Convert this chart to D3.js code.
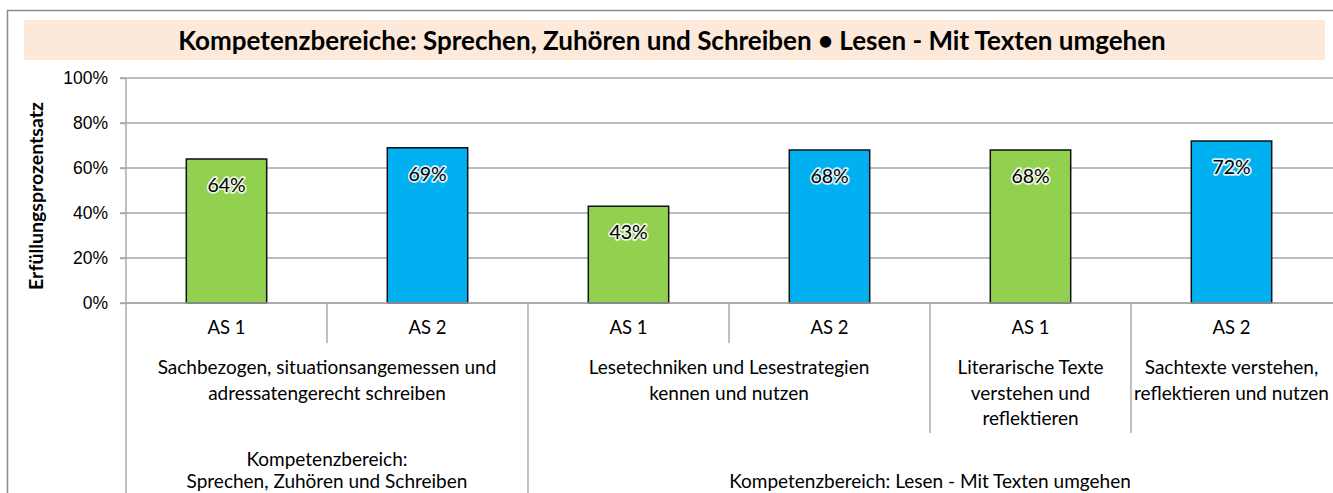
<!DOCTYPE html>
<html>
<head>
<meta charset="utf-8">
<script src="https://d3js.org/d3.v7.min.js"></script>
<style>
  body { margin: 0; background: #fff; font-family: Lato, "Open Sans", sans-serif; }
  svg text { fill: #000; }
  .axis .domain { display: none; }
</style>
</head>
<body>
<div id="chart"></div>
<script>
// data
var titleText = "Kompetenzbereiche: Sprechen, Zuhören und Schreiben • Lesen - Mit Texten umgehen";
var yTitle = "Erfüllungsprozentsatz";
var categories = ["AS 1", "AS 2", "AS 1", "AS 2", "AS 1", "AS 2"];
var values = [0.64, 0.69, 0.43, 0.68, 0.68, 0.72];
var yTicks = [0, 0.2, 0.4, 0.6, 0.8, 1.0];
var subLabels = [
  ["Sachbezogen, situationsangemessen und", "adressatengerecht schreiben"],
  ["Lesetechniken und Lesestrategien", "kennen und nutzen"],
  ["Literarische Texte", "verstehen und", "reflektieren"],
  ["Sachtexte verstehen,", "reflektieren und nutzen"]
];
var subSpans = [2, 2, 1, 1];
var groupLabels = [
  ["Kompetenzbereich:", "Sprechen, Zuhören und Schreiben"],
  ["Kompetenzbereich: Lesen - Mit Texten umgehen"]
];
var groupSpans = [2, 4];

var W = 1333, H = 493;
var margin = { left: 126, right: 1, top: 78, zero: 303 };
var colors = { "AS 1": "#92D050", "AS 2": "#00B0F0" };

var svg = d3.select("#chart").append("svg")
  .attr("width", W)
  .attr("height", H);

// outer chart border
svg.append("rect")
  .attr("x", 7.5).attr("y", 10.5)
  .attr("width", W + 20).attr("height", H + 20)
  .attr("fill", "none")
  .attr("stroke", "#8c8c8c")
  .attr("stroke-width", 1.5);

// title band
svg.append("rect")
  .attr("x", 24).attr("y", 20)
  .attr("width", 1301).attr("height", 40)
  .attr("fill", "#FDE9D9");

svg.append("text")
  .attr("x", 672).attr("y", 50)
  .attr("text-anchor", "middle")
  .style("font-weight", "bold")
  .style("font-size", "26px")
  .text(titleText);

var x = d3.scaleBand()
  .domain(d3.range(categories.length))
  .range([margin.left, W - margin.right]);

var xBar = d3.scaleBand()
  .domain(d3.range(categories.length))
  .range([margin.left, W - margin.right])
  .paddingInner(0.6)
  .paddingOuter(0.3);

var y = d3.scaleLinear()
  .domain([0, 1])
  .range([margin.zero, margin.top]);

// gridlines
svg.append("g")
  .selectAll("line")
  .data(yTicks)
  .enter()
  .append("line")
  .attr("x1", margin.left - 6)
  .attr("x2", W)
  .attr("y1", function(d) { return y(d); })
  .attr("y2", function(d) { return y(d); })
  .attr("stroke", "#a6a6a6")
  .attr("stroke-width", 1.4);

// y axis
var yAxis = d3.axisLeft(y)
  .tickValues(yTicks)
  .tickSize(6)
  .tickPadding(12)
  .tickFormat(d3.format(".0%"));

var gy = svg.append("g")
  .attr("class", "axis")
  .attr("transform", "translate(" + margin.left + ",0)")
  .call(yAxis);
gy.selectAll("line").attr("stroke", "#a6a6a6").attr("stroke-width", 1.4);
gy.selectAll("text").style("font-size", "17.5px").attr("fill", "#222");

svg.append("line")
  .attr("x1", margin.left).attr("x2", margin.left)
  .attr("y1", margin.top).attr("y2", H)
  .attr("stroke", "#a6a6a6").attr("stroke-width", 1.4);

svg.append("text")
  .attr("transform", "translate(43," + 196 + ") rotate(-90)")
  .attr("text-anchor", "middle")
  .style("font-weight", "bold")
  .style("font-size", "19.5px")
  .text(yTitle);

// bars
svg.append("g")
  .selectAll("rect")
  .data(values)
  .enter()
  .append("rect")
  .attr("x", function(d, i) { return xBar(i); })
  .attr("y", function(d) { return y(d); })
  .attr("width", xBar.bandwidth())
  .attr("height", function(d) { return y(0) - y(d); })
  .attr("fill", function(d, i) { return colors[categories[i]]; })
  .attr("stroke", "#111")
  .attr("stroke-width", 1.5);

// value labels with white halo
svg.append("g")
  .selectAll("text")
  .data(values)
  .enter()
  .append("text")
  .attr("x", function(d, i) { return xBar(i) + xBar.bandwidth() / 2; })
  .attr("y", function(d) { return y(d) + 33; })
  .attr("text-anchor", "middle")
  .style("font-size", "19.5px")
  .style("paint-order", "stroke")
  .attr("stroke", "rgba(255,255,255,0.85)")
  .attr("stroke-width", 3.5)
  .attr("stroke-linejoin", "round")
  .text(function(d) { return Math.round(d * 100) + "%"; });

// category axis lines
var sepColor = "#a6a6a6";
var rows = { l1: 343, l2: 433 };
svg.append("line")
  .attr("x1", margin.left).attr("x2", W)
  .attr("y1", y(0)).attr("y2", y(0))
  .attr("stroke", sepColor).attr("stroke-width", 1.4);

// level 1 separators between every category
var sepG = svg.append("g").attr("stroke", sepColor).attr("stroke-width", 1.4);
sepG.selectAll(".s1")
  .data(d3.range(1, categories.length))
  .enter()
  .append("line")
  .attr("x1", function(i) { return x(i); })
  .attr("x2", function(i) { return x(i); })
  .attr("y1", y(0)).attr("y2", rows.l1);

// level 2 separators
var subStarts = d3.cumsum([0].concat(subSpans)).slice(0, subSpans.length);
sepG.selectAll(".s2")
  .data(subStarts.slice(1))
  .enter()
  .append("line")
  .attr("x1", function(i) { return x(i); })
  .attr("x2", function(i) { return x(i); })
  .attr("y1", rows.l1).attr("y2", rows.l2);

// level 3 separators
var groupStarts = d3.cumsum([0].concat(groupSpans)).slice(0, groupSpans.length);
sepG.selectAll(".s3")
  .data(groupStarts.slice(1))
  .enter()
  .append("line")
  .attr("x1", function(i) { return x(i); })
  .attr("x2", function(i) { return x(i); })
  .attr("y1", rows.l2).attr("y2", H);

// category labels
svg.append("g")
  .selectAll("text")
  .data(categories)
  .enter()
  .append("text")
  .attr("x", function(d, i) { return x(i) + x.bandwidth() / 2; })
  .attr("y", 334)
  .attr("text-anchor", "middle")
  .style("font-size", "18.5px")
  .text(function(d) { return d; });

function multiLine(g, lines, cx, y0, lh) {
  var t = g.append("text")
    .attr("text-anchor", "middle")
    .style("font-size", "19px");
  lines.forEach(function(l, k) {
    t.append("tspan").attr("x", cx).attr("y", y0 + k * lh).text(l);
  });
}

var subG = svg.append("g");
subLabels.forEach(function(lines, k) {
  var s = subStarts[k], e = s + subSpans[k];
  var cx = (x(s) + x(e - 1) + x.bandwidth()) / 2;
  multiLine(subG, lines, cx, 374, 25.5);
});

var grpG = svg.append("g");
groupLabels.forEach(function(lines, k) {
  var s = groupStarts[k], e = s + groupSpans[k];
  var cx = (x(s) + x(e - 1) + x.bandwidth()) / 2;
  multiLine(grpG, lines, cx, 488 - (lines.length - 1) * 22, 22);
});
</script>
</body>
</html>
